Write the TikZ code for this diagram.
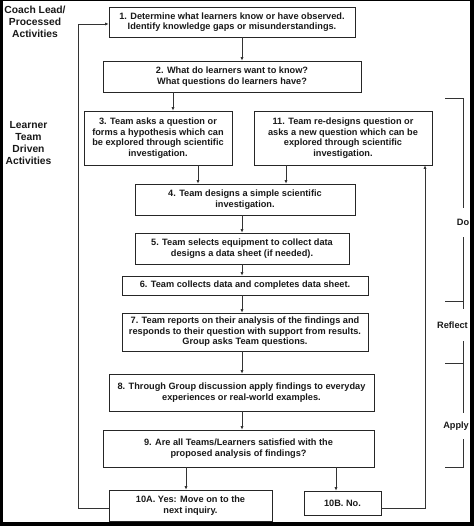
\documentclass[tikz,border=0pt]{standalone}
\usepackage{fontspec}
\setmainfont{Liberation Sans}
\usetikzlibrary{arrows.meta,positioning,calc}

\begin{document}
\begin{tikzpicture}[x=1pt,y=-1pt,
  stepbox/.style={draw=black!85,line width=0.7pt,align=center,inner sep=0pt,
    text=black!90,font=\fontsize{9.2}{10.6}\selectfont\bfseries},
  flow/.style={draw=black!80,line width=0.7pt,-{Latex[length=3.5pt,width=3.2pt]}},
  sidelabel/.style={align=center,text=black!90,font=\fontsize{10.3}{11.8}\selectfont\bfseries},
  phase/.style={fill=white,inner xsep=1pt,text=black!90,font=\fontsize{9.2}{11}\selectfont\bfseries}]
% Frame
\fill[black] (0,0) rectangle (474,526);
\fill[white] (3,1.5) rectangle (470,522);
\useasboundingbox (0,0) rectangle (474,526);

% Column positions for connectors
\coordinate (main) at (242,0);
\coordinate (colA) at (173,0);
\coordinate (colB) at (198,0);
\coordinate (colC) at (286,0);
\coordinate (colD) at (186,0);
\coordinate (colE) at (336,0);
\coordinate (loopL) at (78,0);
\coordinate (loopR) at (425,0);
\coordinate (ylow) at (0,508);

% Side labels
\node[sidelabel] (coach) at (35,22) {Coach Lead/\\Processed\\Activities};
\node[sidelabel] (learner) at (28.5,143) {Learner\\Team\\Driven\\Activities};

% Steps
\node[stepbox,minimum width=246pt,minimum height=30pt] (s1) at (232,22)
  {1. Determine what learners know or have observed.\\Identify knowledge gaps or misunderstandings.};
\node[stepbox,minimum width=258pt,minimum height=31pt] (s2) at (232,76.5)
  {2. What do learners want to know?\\What questions do learners have?};
\node[stepbox,minimum width=148pt,minimum height=54pt] (s3) at (158,138)
  {3. Team asks a question or\\forms a hypothesis which can\\be explored through scientific\\investigation.};
\node[stepbox,minimum width=178pt,minimum height=54pt] (s11) at (343,138)
  {11. Team re-designs question or\\asks a new question which can be\\explored through scientific\\investigation.};
\node[stepbox,minimum width=220pt,minimum height=31pt] (s4) at (245,199.5)
  {4. Team designs a simple scientific\\investigation.};
\node[stepbox,minimum width=214pt,minimum height=31pt] (s5) at (242,248.5)
  {5. Team selects equipment to collect data\\designs a data sheet (if needed).};
\node[stepbox,minimum width=246pt,minimum height=19pt] (s6) at (245,285.5)
  {6. Team collects data and completes data sheet.};
\node[stepbox,minimum width=246pt,minimum height=38pt] (s7) at (245,332)
  {7. Team reports on their analysis of the findings and\\responds to their question with support from results.\\Group asks Team questions.};
\node[stepbox,minimum width=265pt,minimum height=37pt] (s8) at (241.5,392.5)
  {8. Through Group discussion apply findings to everyday\\experiences or real-world examples.};
\node[stepbox,minimum width=271pt,minimum height=37pt] (s9) at (238.5,448.5)
  {9. Are all Teams/Learners satisfied with the\\proposed analysis of findings?};
\node[stepbox,minimum width=163pt,minimum height=31pt] (s10a) at (190.5,505.5)
  {10A. Yes: Move on to the\\next inquiry.};
\node[stepbox,minimum width=77pt,minimum height=24pt] (s10b) at (342.5,503)
  {10B. No.};

% Connectors
\draw[flow] (s1.south -| main) -- (s2.north -| main);
\draw[flow] (s2.south -| colA) -- (s3.north -| colA);
\draw[flow] (s3.south -| colB) -- (s4.north -| colB);
\draw[flow] (s11.south -| colC) -- (s4.north -| colC);
\draw[flow] (s4.south -| main) -- (s5.north -| main);
\draw[flow] (s5.south -| main) -- (s6.north -| main);
\draw[flow] (s6.south -| main) -- (s7.north -| main);
\draw[flow] (s7.south -| main) -- (s8.north -| main);
\draw[flow] (s8.south -| main) -- (s9.north -| main);
\draw[flow] (s9.south -| colD) -- (s10a.north -| colD);
\draw[flow] (s9.south -| colE) -- (s10b.north -| colE);

% Loops back
\draw[flow] (s10a.west |- ylow) -- (ylow -| loopL) |- ($(s1.west)+(0,2)$);
\draw[flow] (s10b.east |- ylow) -- (ylow -| loopR) -- (s11.south -| loopR);

% Phase bracket
\draw[black!80,line width=0.7pt] (445,98) -- (463,98) -- (463,467) -- (445,467);
\draw[black!80,line width=0.7pt] (445,301) -- (463,301);
\draw[black!80,line width=0.7pt] (445,363) -- (463,363);
\node[phase,inner ysep=11pt] (do) at (463,222.5) {Do};
\node[phase,inner ysep=13pt,anchor=east] (reflect) at (469,325) {Reflect};
\node[phase,inner ysep=9pt,anchor=east] (apply) at (470,426) {Apply};
\end{tikzpicture}
\end{document}
